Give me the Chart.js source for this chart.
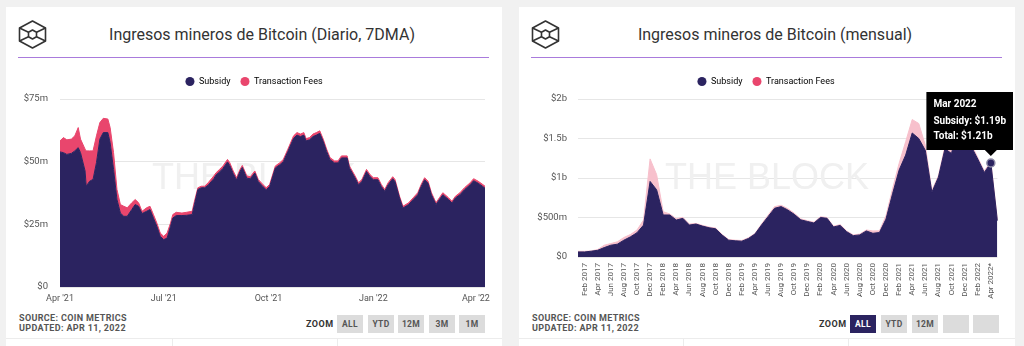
<!DOCTYPE html>
<html>
<head>
<meta charset="utf-8">
<script src="https://cdn.jsdelivr.net/npm/chart.js@4.4.0/dist/chart.umd.min.js"></script>
<style>
  html, body { margin: 0; padding: 0; }
  body { width: 1024px; height: 346px; background: #f1f1f1; position: relative; overflow: hidden; font-family: Roboto, sans-serif; }
  .card { position: absolute; top: 7px; width: 496px; height: 339px; background: #fff; }
  .logo { position: absolute; left: 12px; top: 13px; width: 29px; height: 29px; }
  .title { position: absolute; left: 56px; width: 400px; top: 18px; font-size: 16px; line-height: 20px; color: #333; text-align: center; white-space: nowrap; }
  .rule { position: absolute; left: 12px; top: 50px; width: 471px; height: 1px; background: #a97bdc; }
  .box { position: absolute; left: 0; top: 53px; }
  .src { position: absolute; left: 13px; top: 306px; font-weight: bold; font-size: 9px; line-height: 10px; color: #555; letter-spacing: .35px; }
  .zoomlbl { position: absolute; left: 300px; top: 308px; line-height: 18px; font-weight: bold; font-size: 9px; color: #333; letter-spacing: .5px; }
  .btn { position: absolute; top: 308px; width: 26px; height: 18px; background: #dcdcdc; color: #555; font-weight: bold; font-size: 8.5px; line-height: 18px; text-align: center; letter-spacing: .3px; }
  .btn.on { background: #2b2360; color: #fff; }
  .foot { position: absolute; left: 0; top: 331px; width: 496px; height: 1px; background: #ececec; }
  .sep { position: absolute; top: 331px; width: 1px; height: 8px; background: #ececec; }
</style>
</head>
<body>

<div class="card" style="left:6px">
  <svg class="logo" viewBox="0 0 29 29" fill="none" stroke="#333" stroke-width="1.6" stroke-linejoin="round">
    <polygon points="14.5,1 27.5,8 27.5,21 14.5,28 1.5,21 1.5,8"/>
    <polygon points="14.5,10 18.5,12.2 18.5,16.8 14.5,19 10.5,16.8 10.5,12.2"/>
    <path d="M1.5,8 L10.5,12.2 M27.5,8 L18.5,12.2 M1.5,21 L10.5,16.8 M27.5,21 L18.5,16.8"/>
  </svg>
  <div class="title">Ingresos mineros de Bitcoin (Diario, 7DMA)</div>
  <div class="rule"></div>
  <div class="box"><canvas id="dailyChart" width="496" height="250"></canvas></div>
  <div class="src">SOURCE: COIN METRICS<br>UPDATED: APR 11, 2022</div>
  <div class="zoomlbl">ZOOM</div>
  <div class="btn" style="left:331px">ALL</div>
  <div class="btn" style="left:362px">YTD</div>
  <div class="btn" style="left:392px">12M</div>
  <div class="btn" style="left:423px">3M</div>
  <div class="btn" style="left:453px">1M</div>
  <div class="foot"></div>
  <div class="sep" style="left:166px"></div>
  <div class="sep" style="left:331px"></div>
</div>

<div class="card" style="left:519px">
  <svg class="logo" viewBox="0 0 29 29" fill="none" stroke="#333" stroke-width="1.6" stroke-linejoin="round">
    <polygon points="14.5,1 27.5,8 27.5,21 14.5,28 1.5,21 1.5,8"/>
    <polygon points="14.5,10 18.5,12.2 18.5,16.8 14.5,19 10.5,16.8 10.5,12.2"/>
    <path d="M1.5,8 L10.5,12.2 M27.5,8 L18.5,12.2 M1.5,21 L10.5,16.8 M27.5,21 L18.5,16.8"/>
  </svg>
  <div class="title">Ingresos mineros de Bitcoin (mensual)</div>
  <div class="rule"></div>
  <div class="box"><canvas id="monthlyChart" width="494" height="250"></canvas></div>
  <div class="src">SOURCE: COIN METRICS<br>UPDATED: APR 11, 2022</div>
  <div class="zoomlbl">ZOOM</div>
  <div class="btn on" style="left:331px">ALL</div>
  <div class="btn" style="left:362px">YTD</div>
  <div class="btn" style="left:393px">12M</div>
  <div class="btn" style="left:424px"></div>
  <div class="btn" style="left:454px"></div>
  <div class="foot"></div>
  <div class="sep" style="left:164px"></div>
  <div class="sep" style="left:329px"></div>
</div>

<script>
// --- Daily chart data (days since Apr 1 2021, $m) ---
const dailyDays = [0, 3, 6, 10, 13, 16, 18, 22, 23, 26, 29, 32, 35, 38, 42, 44, 47, 50, 53, 56, 59, 63, 66, 69, 72, 76, 79, 82, 85, 88, 91, 94, 97, 99, 102, 107, 111, 116, 118, 121, 124, 127, 130, 135, 137, 140, 143, 147, 149, 152, 155, 158, 160, 164, 167,
  171, 174, 178, 181, 184, 189, 193, 196, 200, 205, 208, 211, 214, 216, 219, 222, 225, 228, 231, 234, 237, 241, 244, 247, 252, 254, 259, 262, 265, 269, 272, 275, 279, 282, 285, 288, 292, 294, 298, 301, 306, 310, 314, 317, 320, 323, 326, 330, 333, 336, 341, 344, 347, 351, 355, 360, 363, 367, 371, 373];
const dailySubsidy = [53.9, 53.6, 52.9, 53.3, 54.3, 55.6, 53.6, 46.3, 40.2, 42.2, 42.9, 49.6, 59.0, 61.6, 61.6, 57.6, 46.9, 34.9, 29.5, 28.2, 28.2, 30.9, 32.9, 32.2, 29.3, 30.2, 30.9, 27.5, 24.2, 20.2, 18.9, 19.5, 24.2, 27.5, 28.5, 28.5, 28.6, 28.9, 32.9, 38.9, 39.6, 39.6, 40.6, 43.2, 44.7, 45.9, 47.3, 49.9, 48.5, 45.3, 42.7, 46.1, 47.7, 43.4, 43.2,
  45.5, 42.1, 40.1, 38.8, 40.1, 47.5, 48.8, 50.0, 54.1, 59.3, 60.6, 60.0, 60.6, 58.3, 58.7, 60.0, 60.6, 61.3, 58.1, 54.1, 50.8, 49.5, 49.5, 51.5, 51.5, 47.5, 43.5, 40.8, 42.1, 46.1, 44.1, 42.8, 42.8, 40.1, 38.2, 40.8, 43.2, 42.1, 35.5, 31.5, 32.9, 34.9, 36.8, 40.1, 42.8, 41.4, 36.8, 32.9, 34.9, 36.8, 34.9, 33.5, 35.5, 36.8, 38.8, 40.8, 42.4, 41.4, 40.1, 39.4];
const dailyFees = [4.4, 6.0, 5.8, 5.7, 6.0, 8.0, 5.4, 8.7, 14.1, 12.1, 11.4, 10.7, 6.6, 5.7, 5.4, 6.0, 6.7, 4.0, 3.4, 4.0, 3.4, 2.7, 2.0, 1.4, 0.9, 1.4, 1.3, 1.4, 1.3, 1.3, 1.3, 2.0, 1.3, 1.4, 1.3, 1.0, 1.2, 1.3, 1.3, 0.7, 0.6, 0.6, 1.0, 1.1, 0.9, 1.0, 1.0, 1.0, 1.1, 1.0, 0.9, 0.8, 0.8, 0.9, 0.8,
  0.8, 0.8, 0.8, 0.8, 0.8, 0.8, 0.8, 0.9, 0.9, 1.0, 1.0, 1.0, 1.0, 0.9, 0.9, 1.0, 1.0, 1.0, 0.9, 0.9, 0.8, 0.8, 0.8, 0.8, 0.8, 0.8, 0.8, 0.8, 0.8, 0.8, 0.8, 0.8, 0.8, 0.8, 0.7, 0.8, 0.8, 0.8, 0.7, 0.7, 0.7, 0.7, 0.8, 0.8, 0.8, 0.8, 0.8, 0.7, 0.7, 0.8, 0.7, 0.7, 0.7, 0.8, 0.8, 0.8, 0.8, 0.8, 0.8, 0.8];
const dailyTickDays = [0, 91, 183, 275, 365];
const dailyTickLabels = ["Apr '21", "Jul '21", "Oct '21", "Jan '22", "Apr '22"];

// --- Monthly chart data ($b) ---
const months = ['Dec 2016',
  'Jan 2017', 'Feb 2017', 'Mar 2017', 'Apr 2017', 'May 2017', 'Jun 2017', 'Jul 2017', 'Aug 2017', 'Sep 2017', 'Oct 2017', 'Nov 2017', 'Dec 2017',
  'Jan 2018', 'Feb 2018', 'Mar 2018', 'Apr 2018', 'May 2018', 'Jun 2018', 'Jul 2018', 'Aug 2018', 'Sep 2018', 'Oct 2018', 'Nov 2018', 'Dec 2018',
  'Jan 2019', 'Feb 2019', 'Mar 2019', 'Apr 2019', 'May 2019', 'Jun 2019', 'Jul 2019', 'Aug 2019', 'Sep 2019', 'Oct 2019', 'Nov 2019', 'Dec 2019',
  'Jan 2020', 'Feb 2020', 'Mar 2020', 'Apr 2020', 'May 2020', 'Jun 2020', 'Jul 2020', 'Aug 2020', 'Sep 2020', 'Oct 2020', 'Nov 2020', 'Dec 2020',
  'Jan 2021', 'Feb 2021', 'Mar 2021', 'Apr 2021', 'May 2021', 'Jun 2021', 'Jul 2021', 'Aug 2021', 'Sep 2021', 'Oct 2021', 'Nov 2021', 'Dec 2021',
  'Jan 2022', 'Feb 2022', 'Mar 2022', 'Apr 2022'];
const monthlySubsidy = [0.064, 0.064, 0.073, 0.085, 0.119, 0.149, 0.162, 0.213, 0.255, 0.307, 0.404, 0.957, 0.851, 0.532, 0.532, 0.468, 0.489, 0.404, 0.417, 0.391, 0.370, 0.357, 0.277, 0.213, 0.205, 0.200, 0.234, 0.290, 0.404, 0.511, 0.617, 0.638, 0.596,
  0.54, 0.47, 0.45, 0.43, 0.50, 0.49, 0.38, 0.40, 0.32, 0.27, 0.28, 0.33, 0.30, 0.31, 0.48, 0.80, 1.10, 1.29, 1.57, 1.50, 1.35, 0.82, 1.01, 1.37, 1.31, 1.68, 1.60, 1.40, 1.24, 1.07, 1.19, 0.46];
const monthlyFees = [0.008, 0.008, 0.004, 0.009, 0.030, 0.021, 0.030, 0.034, 0.030, 0.034, 0.064, 0.285, 0.192, 0.042, 0.013, 0.017, 0.013, 0.013, 0.008, 0.009, 0.009, 0.009, 0.008, 0.008, 0.008, 0.009, 0.009, 0.008, 0.013, 0.017, 0.021, 0.017, 0.017,
  0.015, 0.012, 0.010, 0.010, 0.010, 0.010, 0.010, 0.010, 0.010, 0.010, 0.010, 0.012, 0.030, 0.021, 0.043, 0.064, 0.085, 0.17, 0.17, 0.19, 0.064, 0.021, 0.021, 0.03, 0.03, 0.05, 0.04, 0.03, 0.02, 0.02, 0.02, 0.01];
const monthlyTickLabels = ['Feb 2017', 'Apr 2017', 'Jun 2017', 'Aug 2017', 'Oct 2017', 'Dec 2017',
  'Feb 2018', 'Apr 2018', 'Jun 2018', 'Aug 2018', 'Oct 2018', 'Dec 2018',
  'Feb 2019', 'Apr 2019', 'Jun 2019', 'Aug 2019', 'Oct 2019', 'Dec 2019',
  'Feb 2020', 'Apr 2020', 'Jun 2020', 'Aug 2020', 'Oct 2020', 'Dec 2020',
  'Feb 2021', 'Apr 2021', 'Jun 2021', 'Aug 2021', 'Oct 2021', 'Dec 2021',
  'Feb 2022', 'Apr 2022*'];
const highlightIndex = 63; // Mar 2022

// Colors
const navy = '#2b2360';
const pink = '#e9466d';
const lightPink = '#f7c0cc';
const seriesNames = ['Subsidy', 'Transaction Fees'];

Chart.defaults.font.family = 'Roboto';
Chart.defaults.animation = false;

// Watermark behind the areas
const watermark = {
  id: 'watermark',
  beforeDatasetsDraw(chart) {
    const ctx = chart.ctx;
    ctx.save();
    ctx.font = '36px "Liberation Sans", Arial, sans-serif';
    ctx.fillStyle = '#f0f0f0';
    ctx.textAlign = 'center';
    ctx.textBaseline = 'middle';
    ctx.fillText('THE BLOCK', 248, 119);
    ctx.restore();
  }
};

// A little more room under the legend
const legendSpace = {
  id: 'legendSpace',
  beforeInit(chart) {
    const origFit = chart.legend.fit;
    chart.legend.fit = function () {
      origFit.bind(chart.legend)();
      this.height += 3;
    };
  }
};

function legendOptions() {
  return {
    position: 'top',
    labels: {
      usePointStyle: true,
      pointStyle: 'circle',
      boxWidth: 9,
      boxHeight: 6.4,
      padding: 10,
      color: '#333',
      font: { size: 9 },
      generateLabels(chart) {
        return seriesNames.map((name, i) => ({
          text: name,
          fillStyle: i === 0 ? navy : pink,
          strokeStyle: i === 0 ? navy : pink,
          lineWidth: 0,
          pointStyle: 'circle',
          datasetIndex: i,
          hidden: false
        }));
      }
    }
  };
}

// --- Daily chart ---
new Chart(document.getElementById('dailyChart'), {
  type: 'line',
  data: {
    datasets: [
      {
        label: 'Subsidy',
        data: dailyDays.map((d, i) => ({ x: d, y: dailySubsidy[i] })),
        backgroundColor: navy,
        borderColor: navy,
        borderWidth: 1,
        pointRadius: 0,
        fill: 'origin'
      },
      {
        label: 'Transaction Fees',
        data: dailyDays.map((d, i) => ({ x: d, y: dailyFees[i] })),
        backgroundColor: pink,
        borderColor: pink,
        borderWidth: 1,
        pointRadius: 0,
        fill: '-1'
      }
    ]
  },
  options: {
    responsive: false,
    events: [],
    layout: { padding: { top: 7, right: 17, left: 17, bottom: 0 } },
    plugins: {
      legend: legendOptions(),
      tooltip: { enabled: false }
    },
    scales: {
      x: {
        type: 'linear',
        min: 0,
        max: 373,
        grid: { display: false, drawTicks: false },
        border: { display: false },
        afterBuildTicks(scale) {
          scale.ticks = dailyTickDays.map(v => ({ value: v }));
        },
        afterFit(scale) { scale.height = 23; },
        ticks: {
          padding: 6,
          color: '#555',
          font: { size: 9 },
          callback: value => dailyTickLabels[dailyTickDays.indexOf(value)]
        }
      },
      y: {
        stacked: true,
        min: 0,
        max: 75,
        grid: { color: '#e6e6e6', drawTicks: false },
        border: { display: false },
        afterFit(scale) { scale.width = 37; },
        ticks: {
          stepSize: 25,
          padding: 12,
          color: '#555',
          font: { size: 9.5 },
          callback: v => v === 0 ? '$0' : '$' + v + 'm'
        }
      }
    }
  },
  plugins: [watermark, legendSpace]
});

// --- Monthly chart ---
const monthlyChart = new Chart(document.getElementById('monthlyChart'), {
  type: 'line',
  data: {
    labels: months,
    datasets: [
      {
        label: 'Subsidy',
        data: monthlySubsidy,
        backgroundColor: navy,
        borderColor: navy,
        borderWidth: 1,
        pointRadius: 0,
        pointHoverRadius: 4,
        pointHoverBorderWidth: 1.5,
        pointHoverBackgroundColor: navy,
        pointHoverBorderColor: '#8d8aa6',
        fill: 'origin'
      },
      {
        label: 'Transaction Fees',
        data: monthlyFees,
        backgroundColor: lightPink,
        borderColor: lightPink,
        borderWidth: 1,
        pointRadius: 0,
        pointHoverRadius: 0,
        fill: '-1'
      }
    ]
  },
  options: {
    responsive: false,
    events: [],
    layout: { padding: { top: 7, right: 15, left: 15, bottom: 0 } },
    plugins: {
      legend: legendOptions(),
      tooltip: {
        xAlign: 'center',
        yAlign: 'bottom',
        backgroundColor: '#000',
        titleColor: '#fff',
        bodyColor: '#fff',
        titleFont: { size: 10, weight: 'bold' },
        bodyFont: { size: 10, weight: 'bold' },
        padding: 7,
        caretSize: 6,
        caretPadding: 7,
        cornerRadius: 0,
        displayColors: false,
        titleMarginBottom: 5,
        bodySpacing: 3,
        callbacks: {
          title: items => months[items[0].dataIndex],
          label: item => 'Subsidy: $' + monthlySubsidy[item.dataIndex].toFixed(2) + 'b',
          afterLabel: item => 'Total: $' + (monthlySubsidy[item.dataIndex] + monthlyFees[item.dataIndex]).toFixed(2) + 'b'
        }
      }
    },
    scales: {
      x: {
        type: 'category',
        grid: { display: false, drawTicks: false },
        border: { display: false },
        afterFit(scale) { scale.height = 53; },
        ticks: {
          autoSkip: false,
          minRotation: 90,
          maxRotation: 90,
          padding: 6,
          color: '#555',
          font: { size: 8 },
          callback: (val, idx) => idx % 2 === 1 ? monthlyTickLabels[(idx - 1) / 2] : ''
        }
      },
      y: {
        stacked: true,
        min: 0,
        max: 2,
        grid: { color: '#e6e6e6', drawTicks: false },
        border: { display: false },
        afterFit(scale) { scale.width = 44; },
        ticks: {
          stepSize: 0.5,
          padding: 11,
          color: '#555',
          font: { size: 9.5 },
          callback: v => v === 0 ? '$0' : (v < 1 ? '$' + Math.round(v * 1000) + 'm' : '$' + v + 'b')
        }
      }
    }
  },
  plugins: [watermark, legendSpace]
});

// Show the Mar 2022 tooltip like in the screenshot
monthlyChart.tooltip.setActiveElements([{ datasetIndex: 0, index: highlightIndex }], { x: 0, y: 0 });
monthlyChart.setActiveElements([{ datasetIndex: 0, index: highlightIndex }]);
monthlyChart.update();
</script>
</body>
</html>
